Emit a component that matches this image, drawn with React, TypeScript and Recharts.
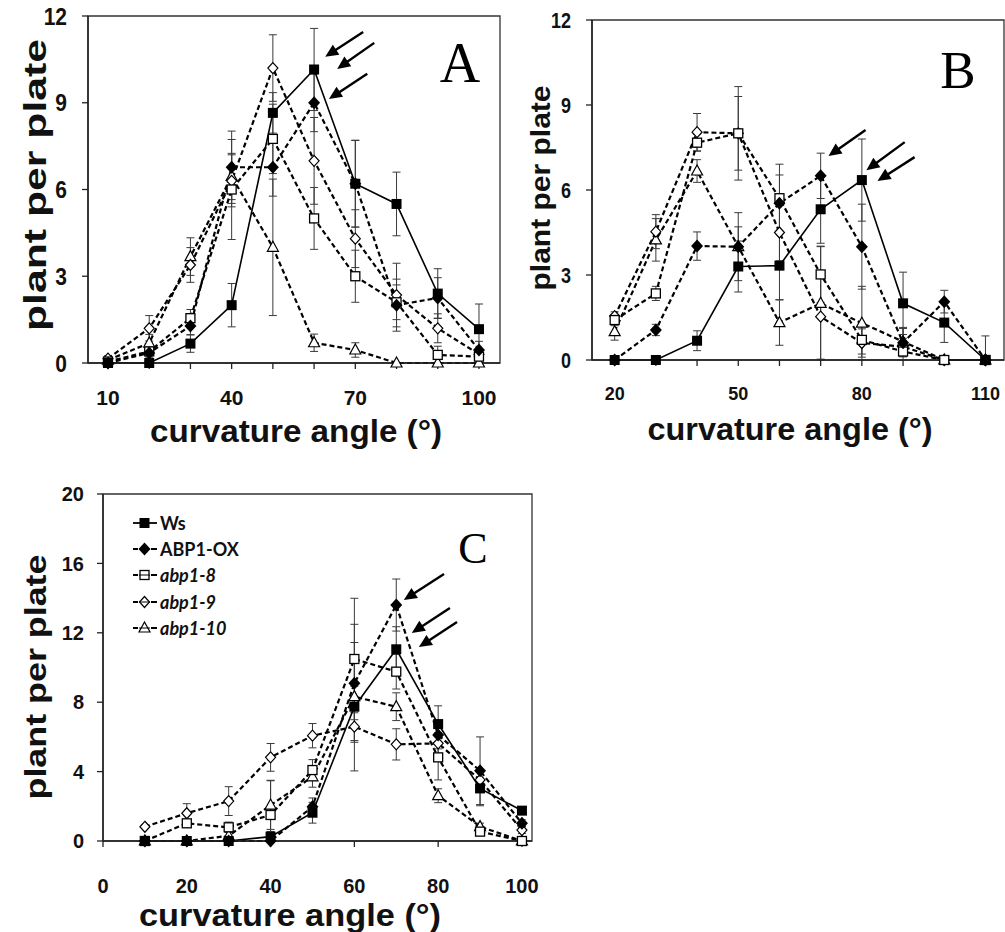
import React from 'react';
import { LineChart, Line, XAxis, YAxis, ErrorBar, ReferenceLine, ReferenceArea, Legend } from 'recharts';

const SANS = '"Liberation Sans", Arial, sans-serif';
const SERIF = '"Liberation Serif", "Times New Roman", serif';
const LEGEND_FONT = 'Lato, "Open Sans", sans-serif';

// Panel A
const anglesA = [10, 20, 30, 40, 50, 60, 70, 80, 90, 100];
const xTicksA = [10, 20, 30, 40, 50, 60, 70, 80, 90, 100];
const xLabelsA = ['10', '', '', '40', '', '', '70', '', '', '100'];
const yTicksA = [0, 3, 6, 9, 12];
const wsA = [0, 0, 0.67, 2.0, 8.65, 10.15, 6.2, 5.5, 2.4, 1.17];
const oxA = [0, 0.35, 1.28, 6.77, 6.77, 9.0, 6.2, 2.0, 2.25, 0.45];
const a8A = [0.05, 0.4, 1.55, 6.0, 7.75, 5.0, 3.0, 2.1, 0.28, 0.22];
const a9A = [0.15, 1.2, 3.39, 6.3, 10.2, 6.99, 4.3, 2.35, 1.2, 0.3];
const a10A = [0.1, 0.69, 3.68, 6.45, 4.0, 0.7, 0.45, 0, 0, 0];
const wsErrA = [0.05, 0.05, 0.3, 0.75, 0.7, 1.42, 1.5, 1.1, 0.86, 0.87];
const oxErrA = [0.05, 0.2, 0.3, 1.25, 1.0, 1.0, 1.5, 0.9, 0.7, 0.3];
const a8ErrA = [0.05, 0.2, 0.3, 1.73, 1.2, 1.07, 0.9, 0.6, 0.3, 0.2];
const a9ErrA = [0.1, 0.44, 0.6, 0.9, 1.15, 1.5, 1.0, 1.1, 0.5, 0.2];
const a10ErrA = [0.1, 0.3, 0.65, 0.8, 2.36, 0.3, 0.25, 0, 0, 0];
const arrowsA = [
  [71.9, 11.45, 62.7, 10.59],
  [74.6, 11.07, 65.6, 10.17],
  [72.9, 10.0, 63.6, 9.13],
];

// Panel B
const anglesB = [20, 30, 40, 50, 60, 70, 80, 90, 100, 110];
const xTicksB = [20, 30, 40, 50, 60, 70, 80, 90, 100, 110];
const xLabelsB = ['20', '', '', '50', '', '', '80', '', '', '110'];
const yTicksB = [0, 3, 6, 9, 12];
const wsB = [0, 0, 0.68, 3.3, 3.33, 5.32, 6.35, 2.0, 1.32, 0];
const oxB = [0, 1.06, 4.02, 4.0, 5.53, 6.5, 4.0, 0.61, 2.06, 0];
const a8B = [1.41, 2.35, 7.67, 8.0, 5.71, 3.02, 0.71, 0.3, 0, 0];
const a9B = [1.55, 4.53, 8.04, 8.0, 4.5, 1.53, 0.6, 0.47, 0, 0];
const a10B = [1.0, 4.24, 6.67, 4.0, 1.32, 2.0, 1.3, 0.65, 0, 0];
const wsErrB = [0.05, 0.05, 0.35, 0.9, 1.2, 1.2, 1.45, 1.1, 0.7, 0.85];
const oxErrB = [0.05, 0.2, 0.5, 1.2, 1.0, 0.8, 1.5, 0.5, 0.4, 0.1];
const a8ErrB = [0.2, 0.25, 0.3, 1.3, 1.2, 1.0, 0.5, 0.3, 0, 0];
const a9ErrB = [0.15, 0.6, 0.66, 1.65, 1.0, 1.5, 0.5, 0.3, 0, 0];
const a10ErrB = [0.3, 0.75, 0.4, 0.7, 0.8, 2.0, 1.3, 0.5, 0, 0];
const arrowsB = [
  [80.9, 8.12, 71.9, 7.2],
  [90.4, 7.69, 81.1, 6.7],
  [92.8, 7.16, 83.8, 6.32],
];

// Panel C
const anglesC = [10, 20, 30, 40, 50, 60, 70, 80, 90, 100];
const xTicksC = [0, 20, 40, 60, 80, 100];
const xLabelsC = ['0', '20', '40', '60', '80', '100'];
const yTicksC = [0, 4, 8, 12, 16, 20];
const wsC = [0, 0, 0, 0.25, 1.63, 7.74, 11.05, 6.74, 3.03, 1.75];
const oxC = [0, 0, 0, 0, 1.98, 9.09, 13.6, 6.11, 4.05, 1.02];
const a8C = [0, 1.02, 0.79, 1.5, 4.09, 10.49, 9.76, 4.82, 0.54, 0];
const a9C = [0.82, 1.6, 2.3, 4.82, 6.07, 6.59, 5.57, 5.63, 3.52, 0.63];
const a10C = [0, 0, 0.3, 2.07, 3.7, 8.32, 7.74, 2.61, 0.83, 0];
const wsErrC = [0, 0, 0.1, 0.3, 0.6, 3.7, 1.3, 1.05, 1.0, 0.2];
const oxErrC = [0, 0, 0.1, 0.1, 0.5, 3.4, 1.5, 0.8, 1.95, 0.2];
const a8ErrC = [0, 0.2, 0.3, 2.0, 0.6, 3.5, 1.0, 1.3, 0.2, 0.1];
const a9ErrC = [0.1, 0.55, 0.83, 0.8, 0.7, 0.8, 0.9, 0.6, 0.5, 0.2];
const a10ErrC = [0, 0, 0.2, 1.4, 0.6, 0.6, 0.8, 0.4, 0.2, 0];
const arrowsC = [
  [81.4, 15.39, 71.8, 13.89],
  [82.8, 13.43, 73.7, 11.99],
  [84.5, 12.62, 75.4, 11.18],
];

const SERIES = [
  { key: 'ws', name: 'Ws', marker: 'fsquare', dashed: false, italic: false },
  { key: 'ox', name: 'ABP1-OX', marker: 'fdiamond', dashed: true, italic: false },
  { key: 'a8', name: 'abp1-8', marker: 'osquare', dashed: true, italic: true },
  { key: 'a9', name: 'abp1-9', marker: 'odiamond', dashed: true, italic: true },
  { key: 'a10', name: 'abp1-10', marker: 'otriangle', dashed: true, italic: true },
];
// draw open markers first so the filled ones sit on top
const DRAW_ORDER = ['a10', 'a9', 'a8', 'ox', 'ws'];

// error bars are cut off at the x axis, as in the original plot
function buildRows(angles: number[], vals: number[][], errs: number[][]) {
  return angles.map((angle, i) => {
    const r: Record<string, any> = { angle };
    SERIES.forEach((s, j) => {
      const v = vals[j][i];
      const e = errs[j][i];
      r[s.key] = v;
      r[s.key + 'Err'] = [Math.min(e, v), e];
    });
    return r;
  });
}

const dataA = buildRows(anglesA, [wsA, oxA, a8A, a9A, a10A], [wsErrA, oxErrA, a8ErrA, a9ErrA, a10ErrA]);
const dataB = buildRows(anglesB, [wsB, oxB, a8B, a9B, a10B], [wsErrB, oxErrB, a8ErrB, a9ErrB, a10ErrB]);
const dataC = buildRows(anglesC, [wsC, oxC, a8C, a9C, a10C], [wsErrC, oxErrC, a8ErrC, a9ErrC, a10ErrC]);

function Marker({ kind, cx, cy, fill = '#fff' }: { kind: string; cx: number; cy: number; fill?: string }) {
  if (cx == null || cy == null) return null;
  switch (kind) {
    case 'fsquare':
      return <rect x={cx - 5} y={cy - 5} width={10} height={10} fill="#000" />;
    case 'fdiamond':
      return <polygon points={`${cx},${cy - 6.5} ${cx + 6},${cy} ${cx},${cy + 6.5} ${cx - 6},${cy}`} fill="#000" />;
    case 'osquare':
      return <rect x={cx - 4.5} y={cy - 4.5} width={9} height={9} fill={fill} stroke="#000" strokeWidth={1.3} />;
    case 'odiamond':
      return <polygon points={`${cx},${cy - 5.5} ${cx + 5},${cy} ${cx},${cy + 5.5} ${cx - 5},${cy}`} fill={fill} stroke="#000" strokeWidth={1.2} />;
    default:
      return <polygon points={`${cx},${cy - 6} ${cx + 5.5},${cy + 4} ${cx - 5.5},${cy + 4}`} fill={fill} stroke="#000" strokeWidth={1.2} />;
  }
}

const ArrowShape = (p: any) => {
  const { x1, y1, x2, y2 } = p;
  const dx = x2 - x1;
  const dy = y2 - y1;
  const len = Math.hypot(dx, dy) || 1;
  const ux = dx / len;
  const uy = dy / len;
  const head = 13;
  const half = 6;
  const bx = x2 - ux * head;
  const by = y2 - uy * head;
  return (
    <g>
      <line x1={x1} y1={y1} x2={bx + ux * 2} y2={by + uy * 2} stroke="#000" strokeWidth={2.4} />
      <polygon points={`${x2},${y2} ${bx - uy * half},${by + ux * half} ${bx + uy * half},${by - ux * half}`} fill="#000" />
    </g>
  );
};

const renderLegend = (props: any) => {
  const payload = (props && props.payload) || [];
  const items = SERIES.filter((s) => payload.length === 0 || payload.some((p: any) => p.dataKey === s.key));
  return (
    <div style={{ display: 'flex', flexDirection: 'column' }}>
      {items.map((s) => (
        <div key={s.key} style={{ display: 'flex', alignItems: 'center', height: 26.2 }}>
          <svg width={30} height={20} style={{ display: 'block' }}>
            {s.dashed ? (
              <g stroke="#000" strokeWidth={2}>
                <line x1={3} y1={10} x2={8} y2={10} />
                <line x1={21} y1={10} x2={27} y2={10} />
                <line x1={9} y1={10} x2={20} y2={10} strokeWidth={1} />
              </g>
            ) : (
              <line x1={3} y1={10} x2={27} y2={10} stroke="#000" strokeWidth={1.8} />
            )}
            <Marker kind={s.marker} cx={14.5} cy={10} fill="none" />
          </svg>
          <span
            style={{
              fontFamily: LEGEND_FONT,
              fontWeight: 700,
              fontStyle: s.italic ? 'italic' : 'normal',
              fontSize: 18,
              color: '#111',
              lineHeight: 1,
            }}
          >
            {s.name}
          </span>
        </div>
      ))}
    </div>
  );
};

type PanelProps = {
  data: Record<string, any>[];
  width: number;
  height: number;
  margin: { top: number; right: number; bottom: number; left: number };
  yAxisWidth: number;
  xAxisHeight: number;
  xDomain: [number, number];
  xTicks: number[];
  xLabels: string[];
  yDomain: [number, number];
  yTicks: number[];
  tickFont: number;
  yTickScale: number;
  xTickMargin: number;
  yTickMargin: number;
  yTitle: { x: number; y: number; size: number; len: number };
  xTitle: { x: number; y: number; size: number; len: number };
  arrows: number[][];
  legend?: boolean;
};

function Panel(p: PanelProps) {
  const XTick = (t: any) => {
    const i = p.xTicks.indexOf(t.payload.value);
    const txt = i >= 0 ? p.xLabels[i] : '';
    if (!txt) return <g />;
    return (
      <text x={t.x} y={t.y} textAnchor="middle" dy="0.71em" fontSize={p.tickFont} fontWeight={700} fontFamily={SANS} fill="#111">
        {txt}
      </text>
    );
  };
  const YTick = (t: any) => (
    <text
      transform={`translate(${t.x},${t.y}) scale(1,${p.yTickScale})`}
      textAnchor="end"
      dy="0.36em"
      fontSize={p.tickFont}
      fontWeight={700}
      fontFamily={SANS}
      fill="#111"
    >
      {t.payload.value}
    </text>
  );
  const yTitle = () => (
    <text
      transform={`translate(${p.yTitle.x},${p.yTitle.y}) rotate(-90)`}
      textAnchor="middle"
      dy="0.35em"
      fontSize={p.yTitle.size}
      fontWeight={700}
      fontFamily={SANS}
      fill="#111"
      textLength={p.yTitle.len}
      lengthAdjust="spacingAndGlyphs"
    >
      plant per plate
    </text>
  );
  const xTitle = () => (
    <text
      x={p.xTitle.x}
      y={p.xTitle.y}
      textAnchor="middle"
      fontSize={p.xTitle.size}
      fontWeight={700}
      fontFamily={SANS}
      fill="#111"
      textLength={p.xTitle.len}
      lengthAdjust="spacingAndGlyphs"
    >
      curvature angle (°)
    </text>
  );

  return (
    <LineChart width={p.width} height={p.height} data={p.data} margin={p.margin}>
      <XAxis
        dataKey="angle"
        type="number"
        domain={p.xDomain}
        ticks={p.xTicks}
        interval={0}
        height={p.xAxisHeight}
        tickSize={6}
        tickMargin={p.xTickMargin}
        axisLine={{ stroke: '#222', strokeWidth: 1.5 }}
        tickLine={{ stroke: '#222', strokeWidth: 1.3 }}
        tick={XTick}
        label={xTitle}
      />
      <YAxis
        type="number"
        domain={p.yDomain}
        ticks={p.yTicks}
        interval={0}
        width={p.yAxisWidth}
        tickSize={6}
        tickMargin={p.yTickMargin}
        axisLine={{ stroke: '#222', strokeWidth: 1.5 }}
        tickLine={{ stroke: '#222', strokeWidth: 1.3 }}
        tick={YTick}
        label={yTitle}
      />
      <ReferenceArea
        x1={p.xDomain[0]}
        x2={p.xDomain[1]}
        y1={p.yDomain[0]}
        y2={p.yDomain[1]}
        fill="none"
        stroke="#333"
        strokeWidth={1.3}
      />
      {DRAW_ORDER.map((k) => {
        const s = SERIES.find((d) => d.key === k)!;
        return (
          <Line
            key={k}
            type="linear"
            dataKey={k}
            name={s.name}
            stroke="#000"
            strokeWidth={s.dashed ? 2.2 : 1.6}
            strokeDasharray={s.dashed ? '5 3' : undefined}
            isAnimationActive={false}
            activeDot={false}
            dot={(d: any) => (
              <g key={`${k}-${d.index}`}>
                <Marker kind={s.marker} cx={d.cx} cy={d.cy} />
              </g>
            )}
          >
            <ErrorBar dataKey={k + 'Err'} direction="y" width={4} stroke="#3a3a3a" strokeWidth={1} isAnimationActive={false} />
          </Line>
        );
      })}
      {p.arrows.map((a, i) => (
        <ReferenceLine
          key={`arrow-${i}`}
          segment={[
            { x: a[0], y: a[1] },
            { x: a[2], y: a[3] },
          ]}
          shape={ArrowShape}
        />
      ))}
      {p.legend ? (
        <Legend
          layout="vertical"
          align="center"
          verticalAlign="middle"
          content={renderLegend}
          wrapperStyle={{ left: 130, top: 40, width: 200 }}
        />
      ) : null}
    </LineChart>
  );
}

export default function App() {
  return (
    <div style={{ position: 'absolute', left: 0, top: 0, width: 1005, height: 932, background: '#fff', overflow: 'hidden' }}>
      <div style={{ position: 'absolute', left: 0, top: 0 }}>
        <Panel
          data={dataA}
          width={505}
          height={452}
          margin={{ top: 16, right: 5, bottom: 0, left: 0 }}
          yAxisWidth={88}
          xAxisHeight={89}
          xDomain={[5.15, 105.1]}
          xTicks={xTicksA}
          xLabels={xLabelsA}
          yDomain={[0, 12]}
          yTicks={yTicksA}
          tickFont={21}
          yTickScale={1.15}
          xTickMargin={21}
          yTickMargin={15}
          yTitle={{ x: 35, y: 185, size: 32, len: 292 }}
          xTitle={{ x: 296, y: 442, size: 32, len: 292 }}
          arrows={arrowsA}
        />
      </div>
      <div style={{ position: 'absolute', left: 500, top: 0 }}>
        <Panel
          data={dataB}
          width={505}
          height={452}
          margin={{ top: 20, right: 1, bottom: 0, left: 0 }}
          yAxisWidth={92}
          xAxisHeight={92}
          xDomain={[14.5, 114.5]}
          xTicks={xTicksB}
          xLabels={xLabelsB}
          yDomain={[0, 12]}
          yTicks={yTicksB}
          tickFont={18}
          yTickScale={1.2}
          xTickMargin={21}
          yTickMargin={15}
          yTitle={{ x: 41, y: 188, size: 27, len: 205 }}
          xTitle={{ x: 290, y: 440, size: 31, len: 285 }}
          arrows={arrowsB}
        />
      </div>
      <div style={{ position: 'absolute', left: 0, top: 470 }}>
        <Panel
          data={dataC}
          width={540}
          height={462}
          margin={{ top: 24, right: 8, bottom: 0, left: 0 }}
          yAxisWidth={103}
          xAxisHeight={91}
          xDomain={[0, 102.4]}
          xTicks={xTicksC}
          xLabels={xLabelsC}
          yDomain={[0, 20]}
          yTicks={yTicksC}
          tickFont={20}
          yTickScale={1.0}
          xTickMargin={32}
          yTickMargin={13}
          yTitle={{ x: 35, y: 207, size: 30, len: 245 }}
          xTitle={{ x: 290, y: 456, size: 32, len: 302 }}
          arrows={arrowsC}
          legend
        />
      </div>
      <svg width={1005} height={932} style={{ position: 'absolute', left: 0, top: 0, pointerEvents: 'none' }}>
        <text x={460} y={82} textAnchor="middle" fontFamily={SERIF} fontSize={56} fill="#000">A</text>
        <text x={958} y={88} textAnchor="middle" fontFamily={SERIF} fontSize={53} fill="#000">B</text>
        <text x={473} y={563} textAnchor="middle" fontFamily={SERIF} fontSize={44} fill="#000">C</text>
      </svg>
    </div>
  );
}
